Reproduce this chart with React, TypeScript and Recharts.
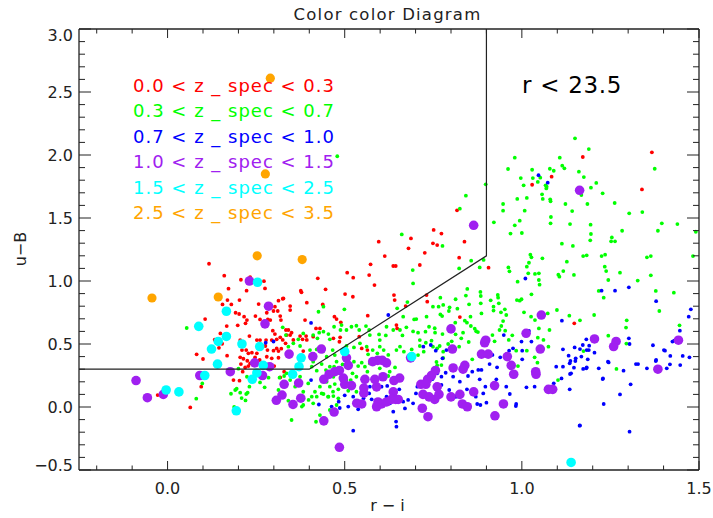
import { ScatterChart, Scatter, XAxis, YAxis, ReferenceLine } from 'recharts';

// r-i vs u-B colours, grouped by spectroscopic redshift bin
const redPts: [number, number][] = [
  [0.117, 1.137], [0.16, 1.042], [0.207, 1.01], [0.233, 1.031], [0.272, 0.999], [0.275, 0.941], [0.172, 0.939], [0.223, 0.923],
  [0.203, 0.849], [0.169, 0.849], [0.18, 0.814], [0.155, 0.814], [0.257, 0.817], [0.313, 0.844], [0.325, 0.859], [0.303, 0.796],
  [0.299, 0.762], [0.311, 0.762], [0.28, 0.748], [0.192, 0.748], [0.202, 0.738], [0.216, 0.717], [0.224, 0.69], [0.248, 0.722],
  [0.261, 0.695], [0.283, 0.695], [0.29, 0.69], [0.106, 0.698], [0.22, 0.664], [0.198, 0.648], [0.167, 0.642], [0.149, 0.584],
  [0.133, 0.534], [0.145, 0.47], [0.154, 0.502], [0.205, 0.531], [0.231, 0.563], [0.252, 0.531], [0.261, 0.531], [0.278, 0.531],
  [0.294, 0.531], [0.308, 0.537], [0.297, 0.606], [0.303, 0.579], [0.318, 0.553], [0.334, 0.611], [0.336, 0.571], [0.216, 0.5],
  [0.222, 0.452], [0.21, 0.452], [0.228, 0.426], [0.238, 0.431], [0.252, 0.426], [0.276, 0.484], [0.282, 0.452], [0.299, 0.447],
  [0.308, 0.465], [0.313, 0.444], [0.321, 0.463], [0.205, 0.394], [0.214, 0.383], [0.225, 0.367], [0.233, 0.346], [0.247, 0.394],
  [0.26, 0.373], [0.28, 0.399], [0.294, 0.386], [0.313, 0.391], [0.082, 0.418], [0.1, 0.381], [0.168, 0.407], [0.207, 0.341],
  [0.219, 0.314], [0.228, 0.325], [0.212, 0.28], [0.186, 0.214], [0.203, 0.209], [0.095, 0.161], [-0.028, 0.095], [0.064, -0.003],
  [0.301, 0.325], [0.318, 0.235], [0.329, 0.28],
  [0.596, 1.312], [0.68, 1.259], [0.749, 1.299], [0.761, 1.285], [0.613, 1.198], [0.726, 1.224], [0.573, 1.132], [0.637, 1.119],
  [0.644, 1.119], [0.712, 1.127], [0.507, 1.066], [0.524, 1.026], [0.569, 1.047], [0.424, 1.021], [0.584, 0.968], [0.376, 0.923],
  [0.378, 0.91], [0.446, 0.934], [0.501, 0.896], [0.523, 0.875], [0.639, 0.888], [0.641, 0.849], [0.731, 0.888], [0.733, 0.836],
  [0.672, 0.801], [0.327, 0.862], [0.393, 0.828], [0.438, 0.814], [0.346, 0.801], [0.346, 0.769], [0.471, 0.717], [0.477, 0.698],
  [0.489, 0.672], [0.318, 0.722], [0.32, 0.69], [0.388, 0.69], [0.565, 0.725], [0.646, 0.65], [0.648, 0.624], [0.419, 0.624],
  [0.43, 0.624], [0.341, 0.611], [0.35, 0.59], [0.346, 0.571], [0.374, 0.563], [0.391, 0.563], [0.411, 0.558], [0.468, 0.545],
  [0.487, 0.553], [0.541, 0.558], [0.325, 0.532], [0.333, 0.505], [0.355, 0.532], [0.381, 0.537], [0.393, 0.532], [0.485, 0.518],
  [0.548, 0.465], [0.564, 0.452], [0.383, 0.444], [0.438, 0.478],
  [1.367, 2.021], [1.172, 1.984], [1.339, 1.727], [1.084, 1.828], [1.029, 1.764], [0.817, 1.561], [0.687, 1.338], [0.751, 1.405],
  [0.773, 1.376], [0.838, 1.312], [0.823, 1.185], [0.906, 1.106], [0.825, 0.714], [1.148, 0.664],
];

const greenPts: [number, number][] = [
  [1.15, 2.132], [1.189, 2.047], [0.98, 1.979], [1.107, 1.979], [1.114, 1.915], [1.12, 1.894], [1.029, 1.883], [1.079, 1.891],
  [1.09, 1.875], [0.961, 1.889], [1.161, 1.868], [1.175, 1.825], [0.997, 1.817], [1.031, 1.817], [1.052, 1.82], [1.045, 1.786],
  [1.005, 1.759], [1.067, 1.759], [1.07, 1.749], [1.069, 1.735], [1.21, 1.778], [1.195, 1.741], [1.168, 1.682], [1.228, 1.696],
  [1.057, 1.688], [1.059, 1.651], [1.08, 1.648], [1.081, 1.632], [0.987, 1.651], [1.014, 1.659], [1.123, 1.611], [1.185, 1.611],
  [1.262, 1.619], [0.947, 1.611], [0.947, 1.558], [1.008, 1.558], [1.142, 1.555], [1.303, 1.537], [1.34, 1.547], [0.898, 1.767],
  [0.842, 1.677], [0.825, 1.574], [0.661, 1.37], [0.776, 1.278], [0.921, 1.466], [0.994, 1.479], [0.98, 1.442], [0.968, 1.376],
  [1.0, 1.381], [1.082, 1.508], [1.081, 1.458], [1.136, 1.452], [1.194, 1.447], [1.195, 1.373], [1.193, 1.323], [1.113, 1.296],
  [1.144, 1.278], [1.283, 1.399], [1.254, 1.346], [1.252, 1.315], [1.263, 1.315], [1.395, 1.458], [1.384, 1.399], [1.439, 1.452],
  [1.491, 1.391], [1.375, 1.891], [0.479, 1.99],
  [1.173, 1.198], [1.183, 1.204], [1.225, 1.198], [1.235, 1.209], [1.353, 1.188], [1.364, 1.198], [1.483, 1.198], [1.147, 1.048],
  [1.234, 1.114], [1.238, 1.079], [1.277, 1.066], [1.244, 1.008], [1.327, 1.003], [1.364, 1.045], [1.217, 0.921], [1.231, 0.868],
  [1.378, 0.921], [1.429, 0.907], [1.388, 0.762], [1.204, 0.73], [1.164, 0.688], [1.134, 0.725], [1.296, 0.688], [1.294, 0.63],
  [1.445, 0.648], [1.244, 0.566], [1.295, 0.503], [1.174, 0.444], [1.267, 0.302],
  [1.024, 1.209], [1.027, 1.188], [1.058, 1.18], [1.127, 1.153], [1.014, 1.114], [1.02, 1.145], [0.962, 1.108], [0.965, 1.077],
  [0.892, 1.167], [0.857, 1.161], [0.881, 1.108], [0.823, 1.1], [1.018, 1.061], [1.037, 1.056], [1.048, 1.061], [1.048, 1.008],
  [1.05, 0.971], [1.103, 1.05], [1.106, 1.034], [1.117, 1.079], [0.988, 0.995], [1.027, 0.894], [0.846, 0.937], [0.842, 0.884],
  [0.883, 0.913], [0.884, 0.881], [0.884, 0.823], [0.912, 0.847], [0.932, 0.889], [0.933, 0.868], [0.92, 0.796], [0.92, 0.765],
  [0.935, 0.823], [0.941, 0.751], [0.952, 0.775], [0.986, 0.849], [0.994, 0.844], [0.999, 0.855], [0.851, 0.815], [0.813, 0.855],
  [0.796, 0.791], [0.794, 0.762], [0.818, 0.78], [0.77, 0.868], [0.749, 0.796], [0.765, 0.796], [0.778, 0.81], [0.775, 0.722],
  [0.77, 0.735], [0.886, 0.743], [0.855, 0.717], [0.839, 0.685], [0.845, 0.669], [0.812, 0.669], [0.856, 0.643], [0.867, 0.622],
  [0.871, 0.601], [0.876, 0.595], [0.834, 0.59], [0.85, 0.516], [0.829, 0.545], [0.823, 0.479], [0.802, 0.521], [0.813, 0.577],
  [0.792, 0.5], [0.776, 0.579], [0.754, 0.625], [0.755, 0.59], [0.768, 0.484], [0.745, 0.526], [0.749, 0.479], [0.761, 0.466],
  [0.778, 0.439], [0.778, 0.389], [0.759, 0.357], [0.761, 0.331], [0.773, 0.333], [0.86, 0.378], [0.917, 0.571], [0.923, 0.521],
  [0.937, 0.611], [0.942, 0.643], [0.947, 0.682], [0.956, 0.73], [0.963, 0.532], [0.973, 0.569], [0.953, 0.606], [1.006, 0.751],
  [1.026, 0.717], [1.037, 0.69], [1.048, 0.624], [1.078, 0.611], [1.073, 0.743], [1.099, 0.77], [1.045, 0.55], [1.061, 0.532],
  [1.075, 0.479], [0.984, 0.447], [1.014, 0.447], [1.036, 0.394], [1.044, 0.352], [0.989, 0.325], [1.102, 0.214],
  [0.692, 1.087], [0.693, 0.981], [0.44, 0.796], [0.426, 0.756], [0.499, 0.775], [0.648, 0.783], [0.665, 0.717], [0.677, 0.833],
  [0.696, 0.695], [0.702, 0.698], [0.731, 0.717], [0.728, 0.598], [0.738, 0.637], [0.707, 0.59], [0.693, 0.6], [0.674, 0.632],
  [0.663, 0.568], [0.656, 0.611], [0.637, 0.611], [0.618, 0.637], [0.616, 0.568], [0.597, 0.576], [0.599, 0.531], [0.56, 0.642],
  [0.569, 0.611], [0.571, 0.571], [0.541, 0.611], [0.533, 0.645], [0.519, 0.637], [0.505, 0.611], [0.491, 0.65], [0.488, 0.611],
  [0.47, 0.637], [0.454, 0.579], [0.458, 0.537], [0.44, 0.598], [0.428, 0.59], [0.411, 0.571], [0.423, 0.545], [0.383, 0.584],
  [0.369, 0.537], [0.355, 0.505], [0.325, 0.632], [0.334, 0.571], [0.341, 0.479], [0.374, 0.484], [0.402, 0.452], [0.421, 0.457],
  [0.438, 0.441], [0.466, 0.452], [0.505, 0.484], [0.526, 0.473], [0.543, 0.505], [0.562, 0.479], [0.566, 0.418], [0.579, 0.452],
  [0.599, 0.479], [0.61, 0.452], [0.623, 0.413], [0.646, 0.452], [0.656, 0.479], [0.667, 0.439], [0.689, 0.457], [0.712, 0.484],
  [0.729, 0.51], [0.707, 0.412], [0.723, 0.439], [0.712, 0.531], [0.449, 0.399], [0.472, 0.412], [0.477, 0.36], [0.47, 0.32],
  [0.482, 0.307], [0.494, 0.338], [0.505, 0.373], [0.515, 0.333], [0.526, 0.36], [0.538, 0.325], [0.548, 0.352], [0.557, 0.32],
  [0.564, 0.28], [0.571, 0.346], [0.411, 0.36], [0.407, 0.32], [0.421, 0.288], [0.435, 0.341], [0.447, 0.293], [0.458, 0.32],
  [0.468, 0.24], [0.479, 0.267], [0.494, 0.227], [0.505, 0.214], [0.522, 0.267], [0.533, 0.24], [0.517, 0.214], [0.449, 0.2],
  [0.458, 0.161], [0.472, 0.182], [0.482, 0.14], [0.496, 0.161], [0.51, 0.129], [0.522, 0.161], [0.533, 0.121], [0.43, 0.161],
  [0.416, 0.121], [0.44, 0.103], [0.454, 0.082], [0.468, 0.087], [0.482, 0.069], [0.407, 0.082], [0.411, 0.029], [0.397, 0.187],
  [0.383, 0.121], [0.374, 0.24], [0.336, 0.267], [0.346, 0.214], [0.36, 0.161], [0.374, 0.06], [0.383, 0.016], [0.327, 0.103],
  [0.341, 0.05], [0.35, -0.103], [0.419, -0.117], [0.592, 0.426], [0.599, 0.373], [0.599, 0.307], [0.618, 0.346], [0.627, 0.28],
  [0.642, 0.314], [0.623, 0.246], [0.656, 0.24],
  [0.054, 0.627], [0.2, 0.304], [0.224, 0.24], [0.231, 0.161], [0.195, 0.145], [0.191, 0.135], [0.205, 0.114], [0.222, 0.103],
  [0.226, 0.114], [0.179, 0.105], [0.209, 0.071], [0.22, 0.052], [0.274, 0.156], [0.261, 0.195], [0.285, 0.233], [0.316, 0.233],
  [0.329, 0.246], [0.313, 0.135], [0.317, 0.082], [0.081, 0.066], [0.098, 0.187], [0.188, 0.0],
  [0.379, 0.003], [0.398, 0.056], [0.421, 0.082], [0.435, 0.108], [0.453, 0.082], [0.467, 0.122], [0.43, -0.064], [0.458, -0.024],
  [0.477, 0.016],
];

const bluePts: [number, number][] = [
  [0.623, 0.73], [1.01, 1.02], [1.113, 0.685], [1.263, 0.923], [1.225, 0.923], [1.302, 0.95], [1.379, 0.84], [1.477, 0.775],
  [1.471, 0.717], [1.446, 0.606], [1.43, 0.526], [1.37, 0.49], [1.401, 0.452], [1.419, 0.405], [1.454, 0.405], [1.473, 0.394],
  [1.447, 0.333], [1.379, 0.373], [1.322, 0.341], [1.328, 0.341], [1.353, 0.307], [1.302, 0.545], [1.304, 0.5], [1.243, 0.36],
  [1.217, 0.307], [1.229, 0.227], [1.205, 0.431], [1.189, 0.452], [1.182, 0.537], [1.172, 0.492], [1.186, 0.378], [1.182, 0.307],
  [1.149, 0.473], [1.152, 0.386], [1.132, 0.407], [1.135, 0.347], [1.139, 0.267], [1.116, 0.32], [1.112, 0.227], [1.135, 0.14],
  [1.09, 0.188], [1.116, 0.458], [1.02, 0.603], [1.027, 0.519], [0.999, 0.519], [1.001, 0.447], [1.001, 0.378], [0.975, 0.466],
  [0.964, 0.447], [0.949, 0.571], [0.939, 0.394], [0.917, 0.413], [0.909, 0.341], [0.93, 0.315], [0.956, 0.161], [0.966, 0.103],
  [0.984, 0.024], [0.983, 0.008], [0.928, 0.22], [0.897, 0.161], [0.891, 0.108], [0.9, 0.034], [0.883, 0.016], [0.874, 0.024],
  [0.87, 0.082], [0.881, 0.22], [0.886, 0.294], [0.877, 0.294], [0.86, 0.28], [0.848, 0.246], [0.845, 0.14], [0.795, 0.135],
  [0.797, 0.082], [0.815, 0.082], [0.773, 0.175], [0.785, 0.272], [0.773, 0.241], [0.761, 0.267], [0.748, 0.222], [0.74, 0.082],
  [0.705, 0.161], [0.701, 0.108], [0.693, 0.029], [0.679, 0.056], [0.665, 0.042], [0.67, -0.011], [0.654, 0.14], [0.637, -0.037],
  [0.645, -0.116], [0.646, -0.156], [0.62, 0.167], [0.618, 0.082], [0.628, 0.029], [0.604, 0.161], [0.571, 0.161], [0.569, 0.108],
  [0.576, 0.061], [0.553, 0.069], [0.524, 0.082], [0.538, -0.018], [0.524, -0.188], [0.722, 0.479], [0.743, 0.492], [0.757, 0.447],
  [0.787, 0.452], [0.776, 0.386], [0.806, 0.241], [0.825, 0.201], [0.811, 0.082], [1.277, 0.1], [1.304, -0.196], [1.163, -0.148],
  [1.231, 0.024], [1.307, 0.18], [1.013, 0.156], [1.036, 0.161], [1.097, 0.32],
  [1.378, 0.365], [1.418, 0.339], [1.409, 0.307], [1.287, 0.288], [1.245, 0.354], [1.19, 0.487], [1.183, 0.452], [1.164, 0.46],
  [1.168, 0.4], [1.173, 0.302], [1.183, 0.315], [1.151, 0.365], [1.137, 0.365], [1.147, 0.312], [1.136, 0.262], [1.164, -0.146],
  [1.228, 0.222], [1.425, 0.519], [1.404, 0.447],
  [0.299, 0.52], [0.277, 0.51], [0.405, 0.667], [0.427, 0.02], [0.5, 0.093], [0.51, 0.003], [0.463, 0.003], [0.486, -0.008],
  [0.483, 0.042], [0.405, 0.214], [1.047, 1.84], [1.073, 1.78],
];

const purplePts: [number, number][] = [
  [-0.089, 0.21], [-0.057, 0.074], [-0.012, 0.1], [0.091, 0.25], [0.231, 1.0], [0.285, 0.8], [0.275, 0.66], [0.246, 0.35],
  [0.268, 0.25], [0.177, 0.28], [0.288, 0.32], [0.343, 0.42], [0.329, 0.18], [0.37, 0.19], [0.323, 0.095], [0.307, 0.053],
  [0.354, 0.02], [0.376, 0.07], [0.41, 0.4], [0.434, 0.46], [0.441, -0.11], [0.47, -0.04], [0.485, -0.32], [0.441, 0.22],
  [0.456, 0.26], [0.472, 0.28], [0.485, 0.29], [0.496, 0.23], [0.5, 0.18], [0.519, 0.17], [0.505, 0.39], [0.51, 0.33],
  [0.534, 0.03],
  [1.055, 0.73], [0.8, 0.62], [0.898, 0.53], [0.895, 0.51], [0.804, 0.46], [1.012, 0.585], [1.052, 0.46], [0.886, 0.42],
  [0.905, 0.42], [0.959, 0.4], [1.205, 0.54], [1.266, 0.52], [1.259, 0.48], [1.442, 0.53], [1.384, 0.3], [0.97, 0.33],
  [0.977, 0.26], [1.039, 0.28], [1.04, 0.26], [1.075, 0.14], [1.087, 0.14], [0.923, 0.17], [0.948, 0.024], [0.924, -0.07],
  [0.806, 0.31], [0.839, 0.33], [0.834, 0.3], [0.864, 0.12], [0.825, 0.1], [0.832, 0.024], [0.846, 0.002], [0.8, 0.08],
  [0.756, 0.29], [0.745, 0.25], [0.734, 0.22], [0.761, 0.16], [0.715, 0.18], [0.729, 0.18], [0.721, 0.1], [0.738, 0.08],
  [0.754, 0.06], [0.766, 0.1], [0.719, -0.01], [0.735, -0.077], [0.639, 0.21], [0.655, 0.23], [0.637, 0.12], [0.644, 0.06],
  [0.651, 0.06], [0.608, 0.24], [0.585, 0.22], [0.59, 0.16], [0.618, 0.35], [0.606, 0.37], [0.593, 0.37], [0.579, 0.36],
  [0.557, 0.22], [0.554, 0.15], [0.554, 0.11], [0.548, 0.024], [0.594, 0.04], [0.604, 0.024], [0.618, 0.04], [0.632, 0.06],
  [0.59, 0.002], [0.686, 0.39],
  [0.864, 1.442], [1.163, 1.72],
];

const cyanPts: [number, number][] = [
  [0.254, 0.99], [0.166, 0.76], [0.088, 0.64], [0.166, 0.56], [0.143, 0.52], [0.124, 0.46], [0.21, 0.5], [0.26, 0.48],
  [0.141, 0.34], [0.27, 0.33], [0.252, 0.27], [0.239, 0.22], [0.105, 0.25], [0.032, 0.12], [-0.004, 0.135], [0.194, -0.03],
  [0.5, 0.44], [0.377, 0.39], [0.371, 0.32], [0.353, 0.26], [0.689, 0.4], [1.139, -0.44],
];

const orangePts: [number, number][] = [
  [0.29, 2.61], [0.276, 1.85], [-0.044, 0.865], [0.143, 0.873], [0.253, 1.2], [0.38, 1.17],
];

// selection boundary
const cutX = [-0.25, 0.4, 0.9, 0.9];
const cutY = [0.3, 0.3, 1.2, 3.0];

const xTicks = [-0.2, -0.1, 0, 0.1, 0.2, 0.3, 0.4, 0.5, 0.6, 0.7, 0.8, 0.9, 1.0, 1.1, 1.2, 1.3, 1.4, 1.5];
const yTicks = [
  -0.5, -0.4, -0.3, -0.2, -0.1, 0, 0.1, 0.2, 0.3, 0.4, 0.5, 0.6, 0.7, 0.8, 0.9, 1.0, 1.1, 1.2, 1.3, 1.4, 1.5,
  1.6, 1.7, 1.8, 1.9, 2.0, 2.1, 2.2, 2.3, 2.4, 2.5, 2.6, 2.7, 2.8, 2.9, 3.0,
];

const legendLabels = [
  '0.0 < z _ spec < 0.3',
  '0.3 < z _ spec < 0.7',
  '0.7 < z _ spec < 1.0',
  '1.0 < z _ spec < 1.5',
  '1.5 < z _ spec < 2.5',
  '2.5 < z _ spec < 3.5',
];
const legendColors = ['#ff0000', '#00ff00', '#0000ff', '#a020f0', '#00ffff', '#ffa500'];

const W = 713;
const H = 518;
const PLOT_TOP = 29;
const PLOT_RIGHT = 699;
const ink = '#222';
const font = '"DejaVu Sans", sans-serif';

const toXY = (pts: [number, number][]) => pts.map(([x, y]) => ({ x, y }));
const isMajor = (v: number) => Math.abs(v * 2 - Math.round(v * 2)) < 1e-6;
const fmt = (v: number) => (v < 0 ? '\u2212' + Math.abs(v).toFixed(1) : v.toFixed(1));

const dot = (color: string, r: number) => (p: any) => <circle cx={p.cx} cy={p.cy} r={r} fill={color} />;

function XTick(props: any) {
  const { x, y, payload } = props;
  const v = payload.value as number;
  const major = isMajor(v);
  const len = major ? 9 : 4.5;
  return (
    <g>
      <line x1={x} x2={x} y1={y} y2={y - len} stroke={ink} />
      <line x1={x} x2={x} y1={PLOT_TOP} y2={PLOT_TOP + len} stroke={ink} />
      {major && (
        <text x={x} y={y + 18} textAnchor="middle" dominantBaseline="central" fontSize={16} fill={ink} fontFamily={font}>
          {fmt(v)}
        </text>
      )}
    </g>
  );
}

function YTick(props: any) {
  const { x, y, payload } = props;
  const v = payload.value as number;
  const major = isMajor(v);
  const len = major ? 12 : 6;
  // IDL keeps the end labels inside the axis span
  const shift = v >= 2.999 ? 6 : v <= -0.499 ? -5 : 0;
  return (
    <g>
      <line x1={x} x2={x + len} y1={y} y2={y} stroke={ink} />
      <line x1={PLOT_RIGHT} x2={PLOT_RIGHT - len} y1={y} y2={y} stroke={ink} />
      {major && (
        <text x={x - 6} y={y + shift} textAnchor="end" dominantBaseline="central" fontSize={16} fill={ink} fontFamily={font}>
          {fmt(v)}
        </text>
      )}
    </g>
  );
}

export default function App() {
  const cut = cutX.map((x, i) => ({ x, y: cutY[i] }));
  const series = [
    { pts: redPts, color: legendColors[0], r: 1.9 },
    { pts: greenPts, color: legendColors[1], r: 1.9 },
    { pts: bluePts, color: legendColors[2], r: 1.9 },
    { pts: purplePts, color: legendColors[3], r: 4.8 },
    { pts: cyanPts, color: legendColors[4], r: 4.8 },
    { pts: orangePts, color: legendColors[5], r: 4.6 },
  ];

  return (
    <div style={{ position: 'absolute', left: 0, top: 0, width: W, height: H, background: '#fff', fontFamily: font }}>
      <ScatterChart width={W} height={H} margin={{ top: PLOT_TOP, right: W - PLOT_RIGHT, left: 0, bottom: 0 }}>
        <XAxis
          type="number"
          dataKey="x"
          domain={[-0.25, 1.5]}
          ticks={xTicks}
          interval={0}
          tickSize={0}
          tickMargin={0}
          tick={XTick}
          axisLine={{ stroke: ink, strokeWidth: 1.3 }}
          height={48}
          allowDataOverflow
        />
        <YAxis
          type="number"
          dataKey="y"
          domain={[-0.5, 3]}
          ticks={yTicks}
          interval={0}
          tickSize={0}
          tickMargin={0}
          tick={YTick}
          axisLine={{ stroke: ink, strokeWidth: 1.3 }}
          width={79}
          allowDataOverflow
        />
        <ReferenceLine y={3} stroke={ink} strokeWidth={1.3} ifOverflow="visible" />
        <ReferenceLine x={1.5} stroke={ink} strokeWidth={1.3} ifOverflow="visible" />
        {series.map((s, i) => (
          <Scatter key={i} data={toXY(s.pts)} shape={dot(s.color, s.r)} isAnimationActive={false} />
        ))}
        <Scatter
          data={cut}
          line={{ stroke: ink, strokeWidth: 1.2 }}
          shape={() => <g />}
          isAnimationActive={false}
        />
      </ScatterChart>

      <div style={{ position: 'absolute', left: 0, width: W, top: 4, textAlign: 'center', paddingLeft: 62, boxSizing: 'border-box', fontSize: 16.5, letterSpacing: 1.2, color: ink, lineHeight: '22px' }}>
        Color color Diagram
      </div>
      {legendLabels.map((t, i) => (
        <div key={t} style={{ position: 'absolute', left: 133, top: 75 + i * 25.4, fontSize: 18, letterSpacing: 1, lineHeight: '22px', color: legendColors[i], whiteSpace: 'pre' }}>
          {t}
        </div>
      ))}
      <div style={{ position: 'absolute', left: 522, top: 71, fontSize: 23, letterSpacing: 0.7, lineHeight: '28px', color: '#000', whiteSpace: 'pre' }}>
        r &lt; 23.5
      </div>
      <div style={{ position: 'absolute', left: 0, width: W, top: 495, paddingLeft: 62, boxSizing: 'border-box', textAlign: 'center', fontSize: 16, color: ink, lineHeight: '22px', whiteSpace: 'pre' }}>
        r − i
      </div>
      <div style={{ position: 'absolute', left: 21, top: 249, transform: 'translate(-50%, -50%) rotate(-90deg)', fontSize: 16, color: ink, lineHeight: '20px', whiteSpace: 'pre' }}>
        u−B
      </div>
    </div>
  );
}
